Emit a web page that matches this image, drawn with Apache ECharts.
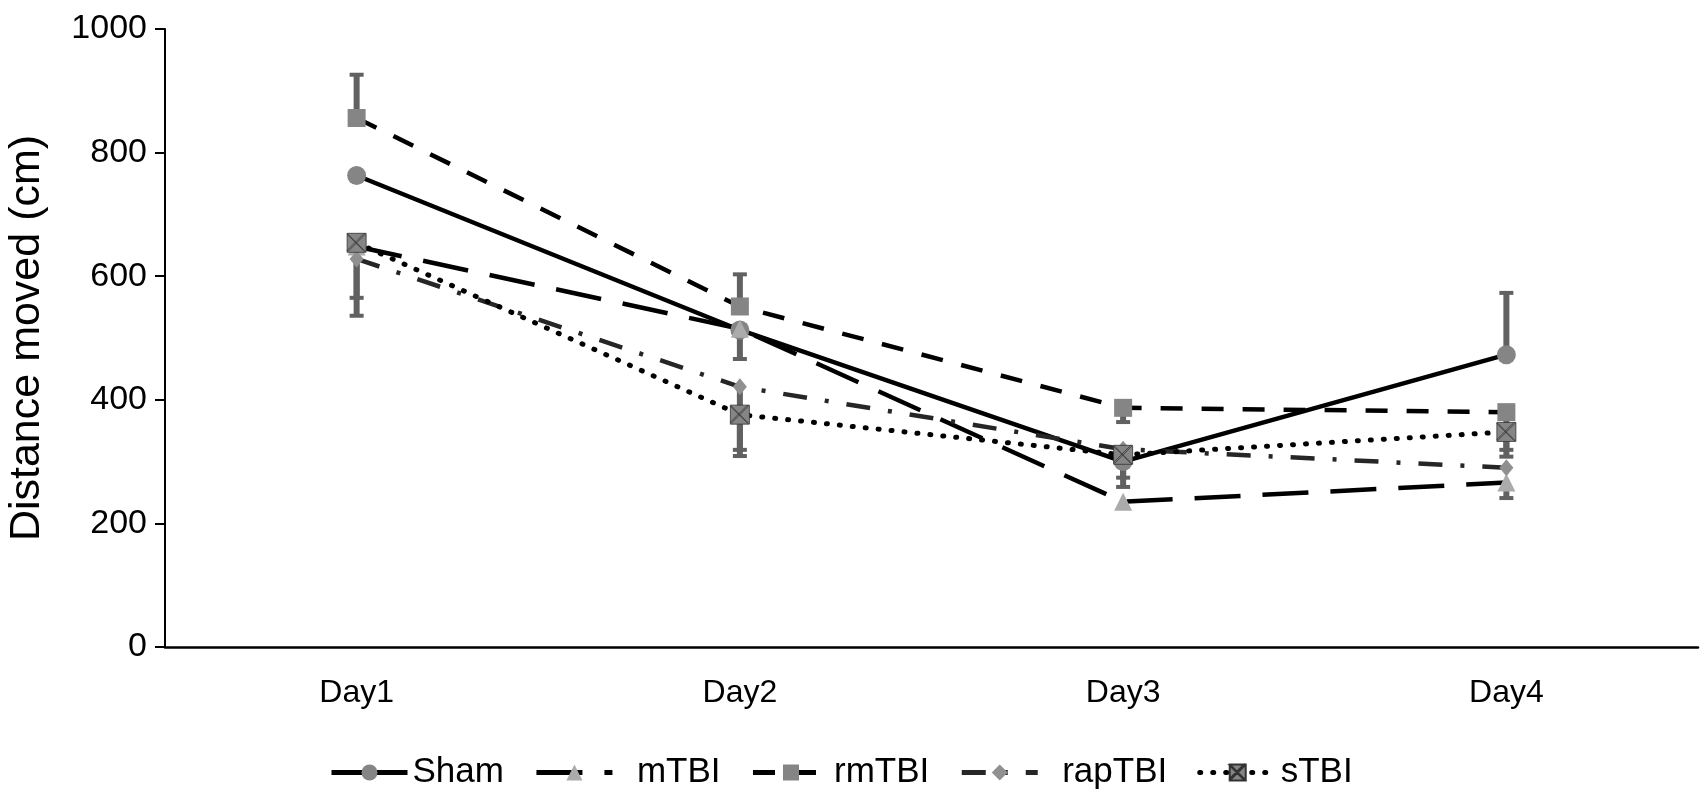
<!DOCTYPE html>
<html>
<head>
<meta charset="utf-8">
<script src="https://cdn.jsdelivr.net/npm/echarts@6/dist/echarts.min.js"></script>
<style>
  html, body { margin: 0; padding: 0; background: #fff; }
  #main { width: 1705px; height: 801px; }
</style>
</head>
<body>
<div id="main"></div>
<script>
// categories
var days = ['Day1', 'Day2', 'Day3', 'Day4'];
// y axis ticks
var yTicks = [0, 200, 400, 600, 800, 1000];

// mean values
var sham = [763, 513, 300, 473];
var mTBI = [648, 515, 235, 266];
var rmTBI = [856, 551, 387, 380];
var rapTBI = [628, 421, 320, 290];
var sTBI = [654, 376, 311, 348];

// error bars (only one side is drawn in the figure)
var shamUp = [0, 0, 0, 100];
var shamDown = [0, 47, 26, 0];
var mTBIUp = [0, 0, 0, 0];
var mTBIDown = [112, 0, 0, 25];
var rmTBIUp = [70, 52, 0, 0];
var rmTBIDown = [0, 0, 23, 72];
var rapTBIUp = [0, 0, 0, 0];
var rapTBIDown = [0, 112, 61, 0];
var sTBIUp = [0, 0, 0, 0];
var sTBIDown = [89, 57, 0, 29];

var font = 'Liberation Sans, Arial, sans-serif';

// 把误差线整理成 [x, low, high, hasLow, hasHigh]
var errRows = [];
function addErr(vals, up, down) {
    for (var i = 0; i < vals.length; i++) {
        if (up[i] > 0 || down[i] > 0) {
            errRows.push([i, vals[i] - down[i], vals[i] + up[i], down[i] > 0 ? 1 : 0, up[i] > 0 ? 1 : 0]);
        }
    }
}
addErr(sham, shamUp, shamDown);
addErr(mTBI, mTBIUp, mTBIDown);
addErr(rmTBI, rmTBIUp, rmTBIDown);
addErr(rapTBI, rapTBIUp, rapTBIDown);
addErr(sTBI, sTBIUp, sTBIDown);

var boxX = 'path://M0,0L20,0L20,20L0,20Z M1,1L19,19L18,19L0,1Z M19,1L1,19L0,18L18,0Z';

var myChart = echarts.init(document.getElementById('main'));
var option = {
    animation: false,
    backgroundColor: '#fff',
    grid: { left: 165, right: 7, top: 29, bottom: 154, containLabel: false, outerBoundsMode: 'none' },
    legend: {
        bottom: 6,
        left: 324,
        itemWidth: 76,
        itemHeight: 20,
        itemGap: 30,
        lineStyle: { width: 5 },
        textStyle: { fontFamily: font, fontSize: 35, color: '#000' },
        // mTBI / rapTBI 的图例文字离图标稍远
        formatter: function (name) {
            return (name === 'mTBI' || name === 'rapTBI') ? '  ' + name : name;
        },
        data: ['Sham', 'mTBI', 'rmTBI', 'rapTBI', 'sTBI']
    },
    xAxis: {
        type: 'category',
        data: days,
        boundaryGap: true,
        axisLine: { lineStyle: { color: '#000', width: 2.5 } },
        axisTick: { show: false },
        axisLabel: { fontFamily: font, fontSize: 32, color: '#000', margin: 30 }
    },
    yAxis: {
        type: 'value',
        min: 0,
        max: 1000,
        interval: 200,
        name: 'Distance moved (cm)',
        nameLocation: 'middle',
        nameGap: 116,
        nameTextStyle: { fontFamily: font, fontSize: 43, color: '#000' },
        axisLine: { show: true, lineStyle: { color: '#000', width: 2 } },
        axisTick: { show: true, length: 10, lineStyle: { color: '#000', width: 2 } },
        axisLabel: {
            fontFamily: font, fontSize: 34, color: '#000', margin: 18,
            formatter: function (v) { return yTicks.indexOf(v) >= 0 ? String(v) : ''; }
        },
        splitLine: { show: false }
    },
    series: [
        {
            type: 'custom',
            name: 'err',
            z: 1,
            silent: true,
            data: errRows,
            renderItem: function (params, api) {
                var lo = api.coord([api.value(0), api.value(1)]);
                var hi = api.coord([api.value(0), api.value(2)]);
                var st = { stroke: '#616161', lineWidth: 6 };
                var kids = [{ type: 'line', shape: { x1: lo[0], y1: lo[1], x2: hi[0], y2: hi[1] }, style: st }];
                if (api.value(3)) {
                    kids.push({ type: 'line', shape: { x1: lo[0] - 7, y1: lo[1], x2: lo[0] + 7, y2: lo[1] }, style: { stroke: '#616161', lineWidth: 4 } });
                }
                if (api.value(4)) {
                    kids.push({ type: 'line', shape: { x1: hi[0] - 7, y1: hi[1], x2: hi[0] + 7, y2: hi[1] }, style: { stroke: '#616161', lineWidth: 4 } });
                }
                return { type: 'group', children: kids };
            }
        },
        {
            name: 'Sham', type: 'line', data: sham, z: 2,
            symbol: 'circle', symbolSize: 19,
            itemStyle: { color: '#858585' },
            lineStyle: { color: '#000', width: 4.5, type: 'solid' }
        },
        {
            name: 'mTBI', type: 'line', data: mTBI, z: 2,
            symbol: 'triangle', symbolSize: 18,
            itemStyle: { color: '#ababab' },
            lineStyle: { color: '#000', width: 4.5, type: [46, 22] }
        },
        {
            name: 'rmTBI', type: 'line', data: rmTBI, z: 2,
            symbol: 'rect', symbolSize: 18,
            itemStyle: { color: '#858585' },
            lineStyle: { color: '#000', width: 4.5, type: [22, 19] }
        },
        {
            name: 'rapTBI', type: 'line', data: rapTBI, z: 2,
            symbol: 'diamond', symbolSize: [14, 17],
            itemStyle: { color: '#909090' },
            lineStyle: { color: '#262626', width: 4.5, type: [24, 18, 4, 18] }
        },
        {
            name: 'sTBI', type: 'line', data: sTBI, z: 2,
            symbol: boxX, symbolSize: 19,
            itemStyle: { color: '#858585', borderColor: '#333', borderWidth: 0.8 },
            lineStyle: { color: '#000', width: 5, type: [1, 12], cap: 'round' }
        }
    ]
};
myChart.setOption(option);
</script>
</body>
</html>
